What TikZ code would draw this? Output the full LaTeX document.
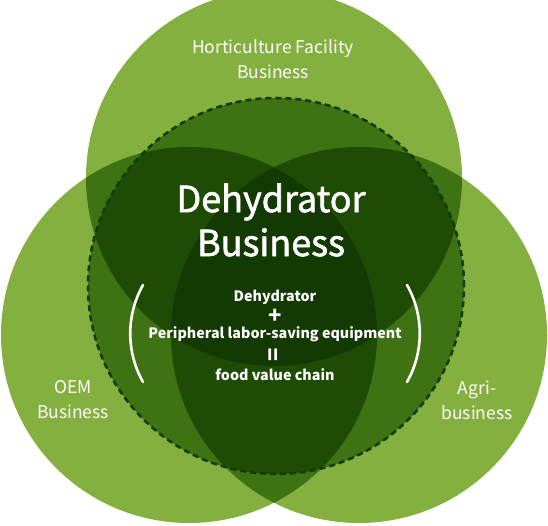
\documentclass[tikz,border=0pt]{standalone}
\usepackage{fontspec}
\setmainfont{Noto Sans CJK JP}
\newfontfamily\heavyfont[FakeBold=1.6]{Noto Sans CJK JP}
\usetikzlibrary{positioning}
\definecolor{leafA}{HTML}{84B03F}
\definecolor{leafB}{HTML}{3E7212}
\definecolor{leafC}{HTML}{1F4C04}
\definecolor{leafD}{HTML}{133A03}
\definecolor{rimgreen}{HTML}{0E3B06}

\begin{document}
\begin{tikzpicture}[x=1pt, y=-1pt, every node/.style={text=white, align=center, inner sep=0pt}]
  \tikzstyle{sector}=[font=\fontsize{17.5}{25}\selectfont]
  \tikzstyle{title}=[font=\fontsize{36}{44}\selectfont\heavyfont]
  \tikzstyle{formula}=[font=\fontsize{14.3}{19}\selectfont\bfseries, anchor=base]
  \tikzstyle{glyph}=[font=\fontsize{22}{22}\selectfont\bfseries]
  \useasboundingbox (0,0) rectangle (548,526);
  \def\hort{(274,178) circle (188pt)}
  \def\oem{(189,335) circle (188pt)}
  \def\agri{(359,335) circle (188pt)}
  \def\core{(276,286) circle (188pt)}
  \fill[leafA] \hort \oem \agri;
  \begin{scope} \clip \hort; \fill[leafB] \oem \agri; \end{scope}
  \begin{scope} \clip \oem; \fill[leafB] \agri; \end{scope}
  \fill[leafB] \core;
  \begin{scope} \clip \core; \clip \hort; \fill[leafC] \oem \agri; \end{scope}
  \begin{scope} \clip \core; \clip \oem; \fill[leafC] \agri; \end{scope}
  \begin{scope} \clip \hort; \clip \oem; \fill[leafC] \agri; \end{scope}
  \begin{scope} \clip \core; \clip \hort; \clip \oem; \fill[leafD] \agri; \end{scope}
  \draw[rimgreen, line width=2.5pt, dash pattern=on 6pt off 4pt] \core;

  \node[sector] (hortlbl) at (273,59) {Horticulture Facility\\Business};
  \node[sector] (oemlbl) at (73,400) {OEM\\Business};
  \node[sector] (agrilbl) at (477,400) {Agri-\\business};
  \node[title] (main) at (271,220) {Dehydrator\\Business};

  \node[formula] (dry) at (275,301) {Dehydrator};
  \node[glyph] (plus) at (275,316.5) {+};
  \node[formula] (periph) at (275,338) {Peripheral labor-saving equipment};
  \node[glyph, rotate=90] (equal) at (275,355) {=};
  \node[formula] (chain) at (275,380) {food value chain};

  \coordinate (lt) at (143,285);
  \coordinate (lb) at (143,382);
  \coordinate (rt) at (407,285);
  \coordinate (rb) at (407,382);
  \draw[white, line width=2.6pt, line cap=round] (lt) .. controls (126,315) and (126,352) .. (lb);
  \draw[white, line width=2.6pt, line cap=round] (rt) .. controls (424,315) and (424,352) .. (rb);
\end{tikzpicture}
\end{document}
